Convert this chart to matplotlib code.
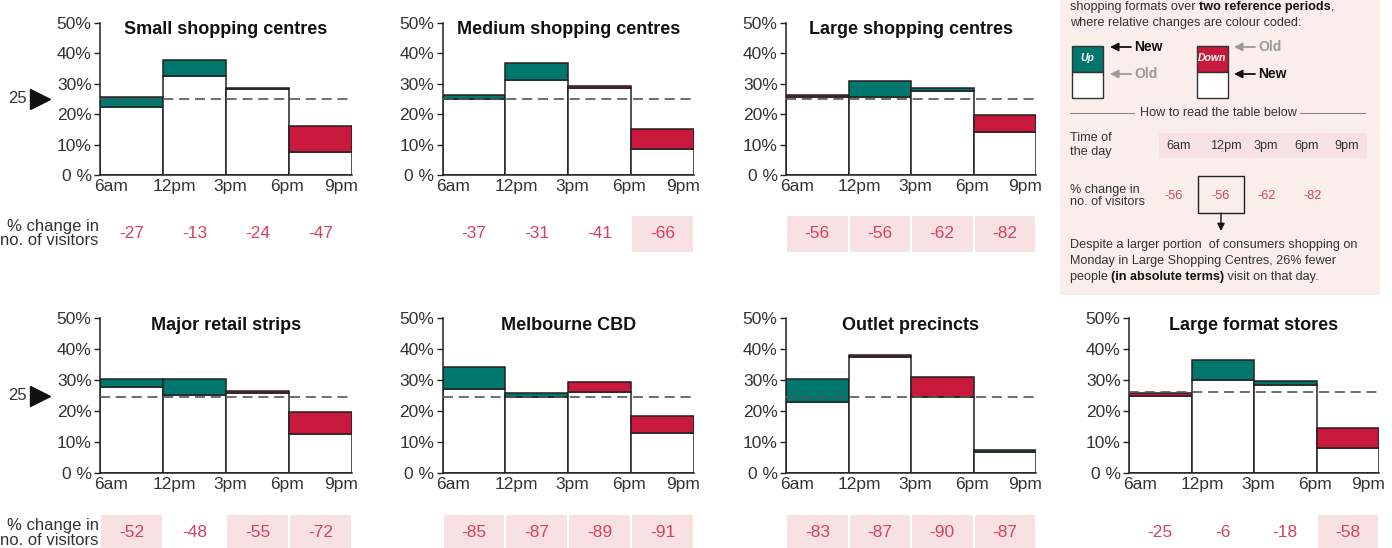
import matplotlib
matplotlib.use('Agg')
import matplotlib.pyplot as plt
from matplotlib.patches import Rectangle
import matplotlib.transforms as mtrans

plt.rcParams['font.family'] = ['Liberation Sans', 'DejaVu Sans']

W, H = 1392, 548

times = ['6am', '12pm', '3pm', '6pm', '9pm']
titles = ['Small shopping centres', 'Medium shopping centres', 'Large shopping centres',
          'Major retail strips', 'Melbourne CBD', 'Outlet precincts', 'Large format stores']

# share of visitors per time slot (%), old and new reference period
old = [
    [22.2, 32.6, 28.1, 16.2],
    [24.8, 31.2, 29.2, 15.2],
    [26.3, 25.7, 27.7, 19.7],
    [27.7, 25.3, 26.5, 19.9],
    [27.3, 24.7, 29.4, 18.4],
    [22.9, 38.3, 31.2, 7.0],
    [25.8, 30.2, 28.4, 14.6],
]
new = [
    [25.7, 37.7, 28.7, 7.7],
    [26.3, 36.8, 28.7, 8.6],
    [25.5, 30.7, 28.7, 14.1],
    [30.3, 30.3, 25.8, 12.6],
    [34.2, 25.8, 26.3, 13.0],
    [30.3, 37.6, 24.5, 7.6],
    [24.9, 36.7, 29.9, 8.2],
]
change = [
    [-27, -13, -24, -47],
    [-37, -31, -41, -66],
    [-56, -56, -62, -82],
    [-52, -48, -55, -72],
    [-85, -87, -89, -91],
    [-83, -87, -90, -87],
    [-25, -6, -18, -58],
]
ref_line = [25, 25, 25, 24.5, 24.5, 24.5, 26.3]
yticks = [0, 10, 20, 30, 40, 50]
ytick_labels = ['0 %', '10%', '20%', '30%', '40%', '50%']

GREEN = '#00776C'
RED = '#C8193C'
PINK = '#F8E1E3'
TXT_RED = '#D8415E'
GREY = '#333333'

fig = plt.figure(figsize=(W / 100, H / 100), dpi=100)


def px(l, t, r, b):
    return [l / W, 1 - b / H, (r - l) / W, (b - t) / H]


# background overlay (pixel coordinates) for the explanation panel
bg = fig.add_axes([0, 0, 1, 1])
bg.set_xlim(0, W)
bg.set_ylim(H, 0)
bg.axis('off')

cols = [(100, 352), (442.5, 694), (786, 1036), (1129, 1379)]
rows = [(22.7, 175), (318.3, 473.3)]
slots = [(0, 0), (0, 1), (0, 2), (1, 0), (1, 1), (1, 2), (1, 3)]
label_pos = [0.17, 1.18, 2.07, 2.97, 3.82]

for k, (r, c) in enumerate(slots):
    ax = fig.add_axes(px(cols[c][0], rows[r][0], cols[c][1], rows[r][1]))
    for i in range(4):
        lo, hi = min(old[k][i], new[k][i]), max(old[k][i], new[k][i])
        col = GREEN if new[k][i] >= old[k][i] else RED
        ax.bar(i, lo, width=1, align='edge', color='white', edgecolor='#222222', lw=1.1, zorder=2)
        ax.bar(i, hi - lo, bottom=lo, width=1, align='edge', color=col, edgecolor='#222222',
               lw=1.1, zorder=2)
    ax.axhline(ref_line[k], color='#555555', lw=1.2, ls=(0, (6, 3.5)), zorder=3)
    ax.set_xlim(0, 4)
    ax.set_ylim(0, 50)
    ax.set_xticks(label_pos)
    ax.set_xticklabels(times)
    ax.set_yticks(yticks)
    ax.set_yticklabels(ytick_labels)
    ax.tick_params(axis='y', length=4, width=1, colors='#222222', labelcolor=GREY,
                   labelsize=12.5, pad=2)
    ax.tick_params(axis='x', length=0, labelcolor=GREY, labelsize=12.5, pad=3)
    for s in ['top', 'right']:
        ax.spines[s].set_visible(False)
    for s in ['left', 'bottom']:
        ax.spines[s].set_color('#222222')
        ax.spines[s].set_linewidth(1.1)
    ax.patch.set_alpha(0)
    ax.text(0.5, 1.01, titles[k], transform=ax.transAxes, ha='center', va='top',
            fontsize=13, fontweight='bold', color='#111111', zorder=5)

    # change row under the chart
    tr = mtrans.blended_transform_factory(ax.transData, ax.transAxes)
    for i, v in enumerate(change[k]):
        if v <= -50:
            ax.add_patch(Rectangle((i, -0.51), 1, 0.25, transform=tr, facecolor=PINK,
                                   edgecolor='white', lw=1.5, clip_on=False))
        ax.text(i + 0.5, -0.385, str(v), transform=tr, ha='center', va='center',
                fontsize=12.5, color=TXT_RED)

    if c == 0:
        ax.text(-0.005, -0.385, '% change in\nno. of visitors', transform=ax.transAxes,
                ha='right', va='center', fontsize=12, color=GREY, linespacing=0.95)
        tr2 = mtrans.blended_transform_factory(ax.transAxes, ax.transData)
        ax.text(-0.29, 25, '25', transform=tr2, ha='right', va='center', fontsize=12,
                color=GREY)
        ax.plot([-0.238], [25], transform=tr2, marker='>', markersize=14, color='#111111',
                clip_on=False, ls='none')

# ---- explanation panel ----
FS = 9.1
bg.add_patch(Rectangle((1060, 0), 320, 295, facecolor='#FAEEEB', edgecolor='none'))
t1 = bg.text(1070, 7, 'shopping formats over ', fontsize=FS, color=GREY, va='center')
t1b = bg.annotate('two reference periods', xy=(1, 0), xycoords=t1, va='bottom', fontsize=FS,
                  fontweight='bold', color='#111111')
bg.annotate(',', xy=(1, 0), xycoords=t1b, va='bottom', fontsize=FS, color=GREY)
bg.text(1070, 23, 'where relative changes are colour coded:', fontsize=FS, color=GREY,
        va='center')

# legend boxes
for x0, col, lab in [(1072, GREEN, 'Up'), (1197, RED, 'Down')]:
    bg.add_patch(Rectangle((x0, 46), 31, 26, facecolor=col, edgecolor='#333333', lw=1))
    bg.add_patch(Rectangle((x0, 72), 31, 26, facecolor='white', edgecolor='#333333', lw=1))
    bg.text(x0 + 15.5, 58, lab, fontsize=7.5, fontweight='bold', style='italic',
            color='white', ha='center', va='center')

for (x0, y0, lab, col) in [(1110, 47, 'New', '#111111'), (1110, 74, 'Old', '#999999'),
                           (1234, 47, 'Old', '#999999'), (1234, 74, 'New', '#111111')]:
    bg.annotate('', xy=(x0, y0), xytext=(x0 + 21, y0),
                arrowprops=dict(arrowstyle='-|>', color=col, lw=1.3, mutation_scale=12,
                                shrinkA=0, shrinkB=0))
    bg.text(x0 + 24, y0, lab, fontsize=10, fontweight='bold', color=col, va='center')

bg.plot([1070, 1134], [113, 113], color='#888888', lw=0.8)
bg.plot([1300, 1365], [113, 113], color='#888888', lw=0.8)
bg.text(1218, 113, 'How to read the table below', fontsize=FS, color=GREY, ha='center',
        va='center')

bg.text(1070, 145, 'Time of\nthe day', fontsize=FS, color=GREY, va='center', linespacing=1.15)
bg.add_patch(Rectangle((1159, 133), 208, 25, facecolor=PINK, edgecolor='none'))
for x0, lab in zip([1179, 1226, 1266, 1307, 1347], times):
    bg.text(x0, 146, lab, fontsize=FS, color=GREY, ha='center', va='center')

bg.text(1070, 196, '% change in\nno. of visitors', fontsize=FS, color=GREY, va='center',
        linespacing=1.05)
for x0, v in zip([1174, 1221, 1267, 1313], change[2]):
    bg.text(x0, 196, str(v), fontsize=FS, color=TXT_RED, ha='center', va='center')
bg.add_patch(Rectangle((1198, 176), 46, 37, facecolor='none', edgecolor='#222222', lw=1))
bg.annotate('', xy=(1221, 231), xytext=(1221, 213),
            arrowprops=dict(arrowstyle='-|>', color='#111111', lw=1, mutation_scale=11,
                            shrinkA=0, shrinkB=0))

bg.text(1070, 245, 'Despite a larger portion  of consumers shopping on', fontsize=FS,
        color=GREY, va='center')
bg.text(1070, 261, 'Monday in Large Shopping Centres, 26% fewer', fontsize=FS, color=GREY,
        va='center')
t3 = bg.text(1070, 277, 'people ', fontsize=FS, color=GREY, va='center')
t4 = bg.annotate('(in absolute terms)', xy=(1, 0), xycoords=t3, va='bottom', fontsize=FS,
                 fontweight='bold', color='#111111')
bg.annotate(' visit on that day.', xy=(1, 0), xycoords=t4, va='bottom', fontsize=FS,
            color=GREY)

fig.savefig('out.png', dpi=100)
